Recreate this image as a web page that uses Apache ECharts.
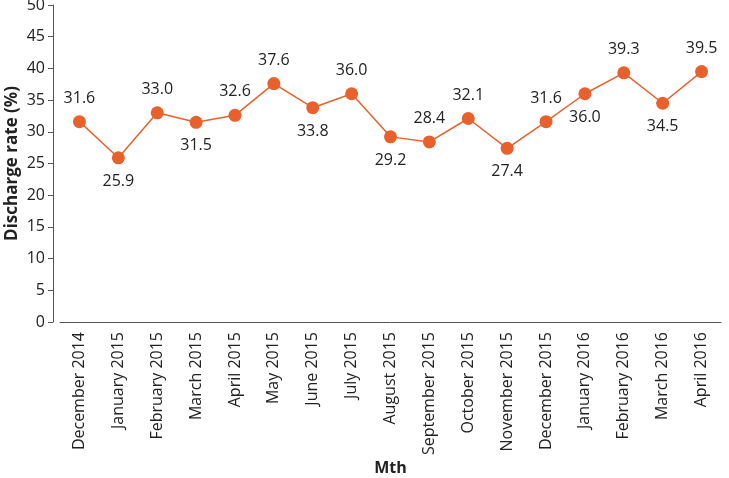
<!DOCTYPE html>
<html>
<head>
<meta charset="utf-8">
<script src="https://cdn.jsdelivr.net/npm/echarts@6/dist/echarts.min.js"></script>
<style>
  html, body { margin: 0; padding: 0; background: #fff; }
  #myChart { width: 729px; height: 478px; }
</style>
</head>
<body>
<div id="myChart"></div>
<script>
// months on the x axis
var months = ['December 2014', 'January 2015', 'February 2015', 'March 2015', 'April 2015',
  'May 2015', 'June 2015', 'July 2015', 'August 2015', 'September 2015', 'October 2015',
  'November 2015', 'December 2015', 'January 2016', 'February 2016', 'March 2016', 'April 2016']
// discharge rate (%)
var rates = [31.6, 25.9, 33.0, 31.5, 32.6, 37.6, 33.8, 36.0, 29.2, 28.4, 32.1, 27.4, 31.6, 36.0, 39.3, 34.5, 39.5]
// where each value label sits
var labelSide = ['top', 'bottom', 'top', 'bottom', 'top', 'top', 'bottom', 'top', 'bottom', 'top',
  'top', 'bottom', 'top', 'bottom', 'top', 'bottom', 'top']

var font = '"Open Sans", sans-serif'
var orange = '#e8612c'

var myChart = echarts.init(document.getElementById('myChart'))
myChart.setOption({
  animation: false,
  grid: { left: 60, right: 8, top: 5, bottom: 156, outerBoundsMode: 'none' },
  xAxis: {
    type: 'category',
    data: months,
    boundaryGap: true,
    name: 'Mth',
    nameLocation: 'middle',
    nameGap: 138,
    nameMoveOverlap: false,
    nameTextStyle: { fontFamily: font, fontWeight: 'bold', fontSize: 16, color: '#222' },
    axisLine: { lineStyle: { color: '#555', width: 1 } },
    axisTick: { alignWithLabel: true, length: 5, lineStyle: { color: '#555' } },
    axisLabel: { rotate: 90, interval: 0, fontFamily: font, fontSize: 16, color: '#222', margin: 10 }
  },
  yAxis: {
    type: 'value',
    min: 0,
    max: 50,
    interval: 5,
    offset: 7,
    name: 'Discharge rate (%)',
    nameLocation: 'middle',
    nameGap: 32,
    nameMoveOverlap: false,
    nameTextStyle: { fontFamily: font, fontWeight: 'bold', fontSize: 17, color: '#222' },
    splitLine: { show: false },
    axisLine: { show: true, lineStyle: { color: '#555', width: 1 } },
    axisTick: { show: true, length: 5, lineStyle: { color: '#555' } },
    axisLabel: { fontFamily: font, fontSize: 16, color: '#222', margin: 8 }
  },
  series: [{
    type: 'line',
    data: rates.map(function (v, i) {
      return { value: v, label: { position: labelSide[i] } }
    }),
    symbol: 'circle',
    symbolSize: 13,
    itemStyle: { color: orange },
    lineStyle: { color: orange, width: 1.5 },
    label: {
      show: true,
      distance: 9,
      fontFamily: font,
      fontSize: 16,
      color: '#222',
      formatter: function (p) { return p.value.toFixed(1) }
    }
  }]
})
</script>
</body>
</html>
